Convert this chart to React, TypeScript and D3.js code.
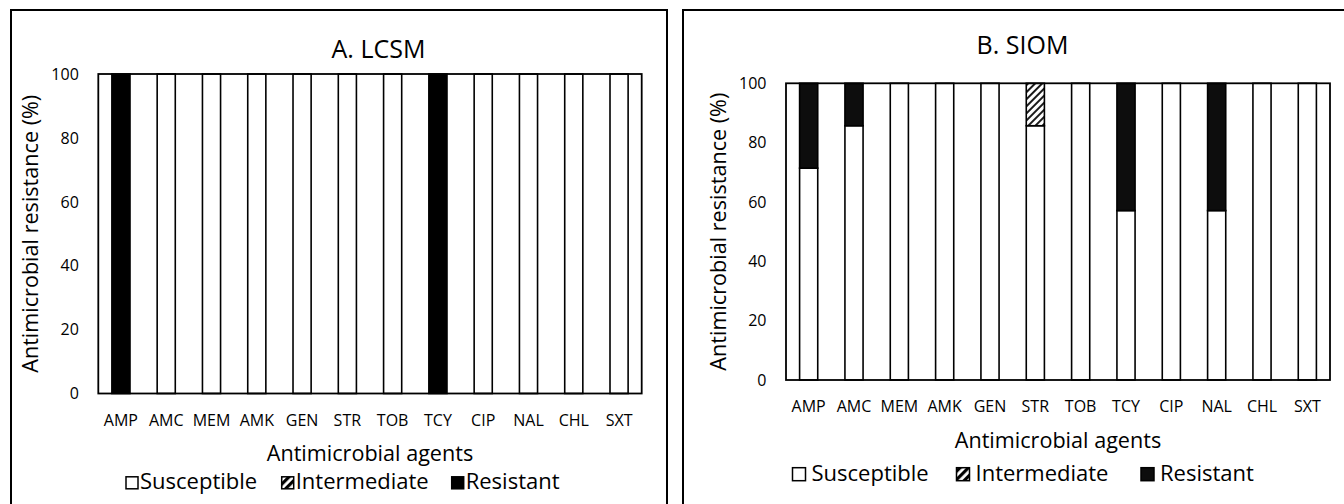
import * as d3 from "d3";

// antimicrobial agents on the x axis
const agents = ["AMP", "AMC", "MEM", "AMK", "GEN", "STR", "TOB", "TCY", "CIP", "NAL", "CHL", "SXT"];
const outcomes = ["Susceptible", "Intermediate", "Resistant"];
const yTicks = [0, 20, 40, 60, 80, 100];

// A. LCSM (%)
const lcsmSusceptible = [0, 100, 100, 100, 100, 100, 100, 0, 100, 100, 100, 100];
const lcsmIntermediate = [0, 0, 0, 0, 0, 0, 0, 0, 0, 0, 0, 0];
const lcsmResistant = [100, 0, 0, 0, 0, 0, 0, 100, 0, 0, 0, 0];

// B. SIOM (%)
const siomSusceptible = [71.4, 85.7, 100, 100, 100, 85.7, 100, 57.1, 100, 57.1, 100, 100];
const siomIntermediate = [0, 0, 0, 0, 0, 14.3, 0, 0, 0, 0, 0, 0];
const siomResistant = [28.6, 14.3, 0, 0, 0, 0, 0, 42.9, 0, 42.9, 0, 0];

const FONT = "'Open Sans', 'Noto Sans', sans-serif";
const W = 1344;
const H = 504;

interface Layout {
  frame: [number, number, number, number];
  left: number;
  right: number;
  top: number;
  bottom: number;
  titleX: number;
  titleY: number;
  legendY: number;
  legendX: number[];
  legendBox: number;
  legendGap: number;
  resistantFill: string;
}

const layoutA: Layout = {
  frame: [11, 10, 667, 530],
  left: 98.3,
  right: 641.7,
  top: 74,
  bottom: 393.5,
  titleX: 378.5,
  titleY: 57.5,
  legendY: 488.8,
  legendX: [126, 281.7, 451.7],
  legendBox: 12,
  legendGap: 14,
  resistantFill: "#000",
};

const layoutB: Layout = {
  frame: [683, 10, 1360, 530],
  left: 786,
  right: 1330,
  top: 83.3,
  bottom: 380,
  titleX: 1022.5,
  titleY: 54,
  legendY: 480.7,
  legendX: [792.5, 956.5, 1141],
  legendBox: 13,
  legendGap: 19,
  resistantFill: "#0d0d0d",
};

function Panel({
  title,
  susceptible,
  intermediate,
  resistant,
  L,
}: {
  title: string;
  susceptible: number[];
  intermediate: number[];
  resistant: number[];
  L: Layout;
}) {
  const x = d3
    .scaleBand<string>()
    .domain(agents)
    .range([L.left, L.right])
    .paddingInner(0.6)
    .paddingOuter(0.3);
  const y = d3.scaleLinear().domain([0, 100]).range([L.bottom, L.top]);

  const rows = agents.map((a, k) => ({
    agent: a,
    Susceptible: susceptible[k],
    Intermediate: intermediate[k],
    Resistant: resistant[k],
  }));
  const series = d3.stack<any>().keys(outcomes)(rows);

  const fills: Record<string, string> = {
    Susceptible: "#fff",
    Intermediate: "url(#hatch)",
    Resistant: L.resistantFill,
  };
  const legendFills: Record<string, string> = { ...fills, Intermediate: "url(#hatch-legend)" };

  const [fx0, fy0, fx1, fy1] = L.frame;
  const midY = (L.top + L.bottom) / 2;
  const midX = (L.left + L.right) / 2;

  return (
    <g>
      <rect x={fx0} y={fy0} width={fx1 - fx0} height={fy1 - fy0} fill="#fff" stroke="#000" strokeWidth={2} />
      <text x={L.titleX} y={L.titleY} textAnchor="middle" fontSize={25} fill="#000">
        {title}
      </text>

      <rect
        x={L.left}
        y={L.top}
        width={L.right - L.left}
        height={L.bottom - L.top}
        fill="#fff"
      />

      {series.map((s) => (
        <g key={s.key}>
          {s
            .filter((d) => d[1] - d[0] > 0)
            .map((d) => (
              <rect
                key={d.data.agent}
                x={x(d.data.agent)!}
                y={y(d[1])}
                width={x.bandwidth()}
                height={y(d[0]) - y(d[1])}
                fill={fills[s.key]}
                stroke="#000"
                strokeWidth={1.6}
              />
            ))}
        </g>
      ))}

      {/* plot frame drawn over the bar edges */}
      <rect
        x={L.left}
        y={L.top}
        width={L.right - L.left}
        height={L.bottom - L.top}
        fill="none"
        stroke="#000"
        strokeWidth={1.8}
      />

      {yTicks.map((t) => (
        <text key={t} x={L.left - 19.5} y={y(t)} dy="0.36em" textAnchor="end" fontSize={16} fill="#000">
          {t}
        </text>
      ))}

      {agents.map((a) => (
        <text key={a} x={x(a)! + x.bandwidth() / 2} y={L.bottom + 32} textAnchor="middle" fontSize={16} fill="#000">
          {a}
        </text>
      ))}

      <text
        transform={`translate(${L.left - 60},${midY}) rotate(-90)`}
        textAnchor="middle"
        fontSize={21.6}
        fill="#000"
      >
        Antimicrobial resistance (%)
      </text>
      <text x={midX} y={L.bottom + 67.5} textAnchor="middle" fontSize={21.6} fill="#000">
        Antimicrobial agents
      </text>

      {outcomes.map((o, k) => (
        <g key={o}>
          <rect
            x={L.legendX[k]}
            y={L.legendY - L.legendBox}
            width={L.legendBox}
            height={L.legendBox}
            fill={legendFills[o]}
            stroke="#000"
            strokeWidth={1.5}
          />
          <text x={L.legendX[k] + L.legendGap} y={L.legendY} fontSize={22} fill="#000">
            {o}
          </text>
        </g>
      ))}
    </g>
  );
}

export default function App() {
  return (
    <div style={{ position: "absolute", left: 0, top: 0, width: W, height: H, overflow: "hidden" }}>
      <svg width={W} height={H} style={{ display: "block", fontFamily: FONT }}>
        <defs>
          <pattern id="hatch" patternUnits="userSpaceOnUse" width={5} height={5} patternTransform="rotate(45)">
            <rect width={5} height={5} fill="#fff" />
            <line x1={1} y1={0} x2={1} y2={5} stroke="#000" strokeWidth={1.8} />
          </pattern>
          <pattern id="hatch-legend" patternUnits="userSpaceOnUse" width={6} height={6} patternTransform="rotate(45)">
            <rect width={6} height={6} fill="#fff" />
            <line x1={1.5} y1={0} x2={1.5} y2={6} stroke="#000" strokeWidth={3.4} />
          </pattern>
        </defs>
        <rect width={W} height={H} fill="#fff" />
        <Panel
          title="A. LCSM"
          susceptible={lcsmSusceptible}
          intermediate={lcsmIntermediate}
          resistant={lcsmResistant}
          L={layoutA}
        />
        <Panel
          title="B. SIOM"
          susceptible={siomSusceptible}
          intermediate={siomIntermediate}
          resistant={siomResistant}
          L={layoutB}
        />
      </svg>
    </div>
  );
}
